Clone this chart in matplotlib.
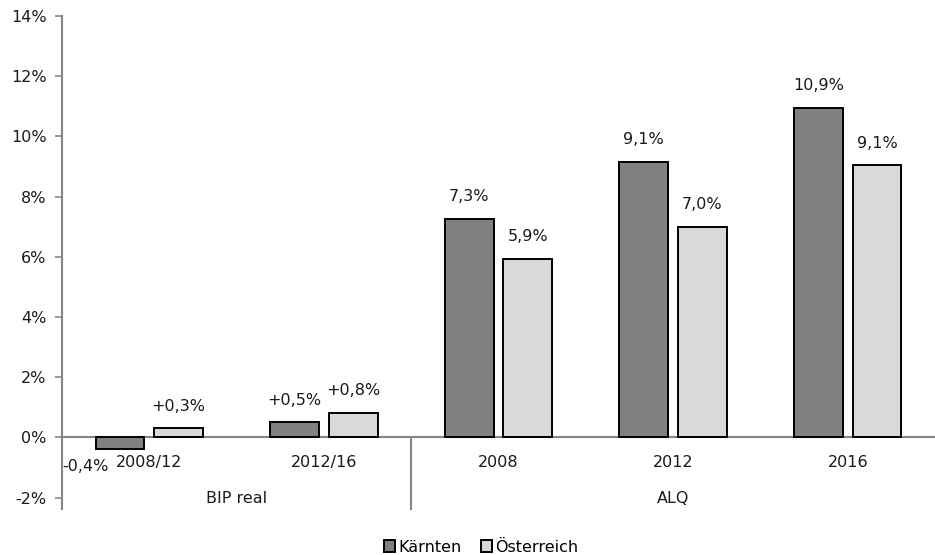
import matplotlib
matplotlib.use("Agg")
import matplotlib.pyplot as plt
import numpy as np

categories = ["2008/12", "2012/16", "2008", "2012", "2016"]
groups = ["BIP real", "ALQ"]
group_spans = [(0, 1), (2, 4)]
series_names = ["Kärnten", "Österreich"]
kaernten = [-0.37, 0.5, 7.25, 9.15, 10.95]
oesterreich = [0.3, 0.82, 5.92, 7.0, 9.04]
kaernten_labels = ["-0,4%", "+0,5%", "7,3%", "9,1%", "10,9%"]
oesterreich_labels = ["+0,3%", "+0,8%", "5,9%", "7,0%", "9,1%"]
yticks = [-2, 0, 2, 4, 6, 8, 10, 12, 14]

plt.rcParams['font.family'] = ['DejaVu Sans']
fig = plt.figure(figsize=(9.35, 5.55), dpi=100)
ax = fig.add_axes([62/935, 46/555, 1 - 62/935, (509-16)/555])

x = np.arange(len(categories))
w = 0.28
off = 0.168
cols = ["#808080", "#d9d9d9"]
b1 = ax.bar(x - off, kaernten, w, color=cols[0], edgecolor="black", linewidth=1.4, zorder=3, label=series_names[0])
b2 = ax.bar(x + off, oesterreich, w, color=cols[1], edgecolor="black", linewidth=1.4, zorder=3, label=series_names[1])

ax.set_xlim(-0.5, len(categories) - 0.5)
ax.set_ylim(-2.38, 14)
ax.set_yticks(yticks)
ax.set_yticklabels([f"{t}%" for t in yticks], fontsize=11.5, color="#1a1a1a")
ax.set_xticks([])
for s in ["top", "right", "bottom"]:
    ax.spines[s].set_visible(False)
ax.spines["left"].set_color("#858585")
ax.spines["left"].set_linewidth(1.5)
ax.tick_params(axis="y", length=5, width=1.2, color="#858585", pad=6)

ax.axhline(0, color="#858585", lw=1.5, zorder=2)

# category labels
for xi, c in zip(x, categories):
    ax.text(xi, -0.83, c, ha="center", va="center", fontsize=11.5, color="#1a1a1a")
for g, (a, b) in zip(groups, group_spans):
    ax.text((a + b) / 2, -2.03, g, ha="center", va="center", fontsize=11.5, color="#1a1a1a")
ax.plot([1.5, 1.5], [0, -2.38], color="#858585", lw=1.5, clip_on=False)

# data labels
for xi, v, lab in zip(x, kaernten, kaernten_labels):
    if v >= 0:
        ax.annotate(lab, (xi - off, v), xytext=(0, 16), textcoords="offset points",
                    ha="center", va="center", fontsize=11.5, color="#1a1a1a")
    else:
        ax.annotate(lab, (xi - off, v), xytext=(-25, -13), textcoords="offset points",
                    ha="center", va="center", fontsize=11.5, color="#1a1a1a")
for xi, v, lab in zip(x, oesterreich, oesterreich_labels):
    ax.annotate(lab, (xi + off, v), xytext=(0, 16), textcoords="offset points",
                ha="center", va="center", fontsize=11.5, color="#1a1a1a")

leg = fig.legend(handles=[b1, b2], labels=series_names, loc="center", bbox_to_anchor=(481/935, 1 - 547/555),
                 ncol=2, frameon=False, fontsize=11.5, handlelength=0.7, handleheight=0.7,
                 handletextpad=0.2, columnspacing=1.2)

fig.savefig("out.png", dpi=100)
